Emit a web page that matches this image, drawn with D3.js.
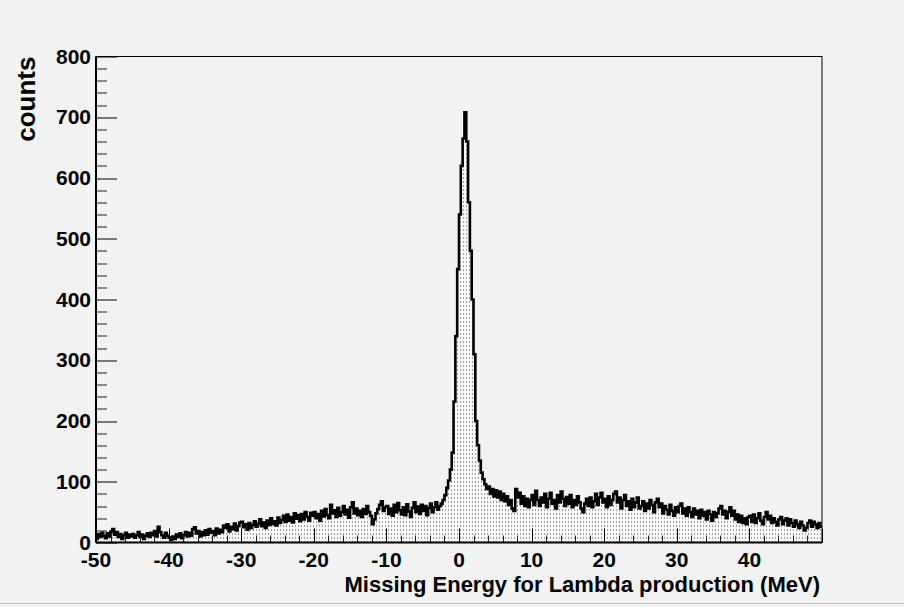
<!DOCTYPE html>
<html>
<head>
<meta charset="utf-8">
<script src="https://cdn.jsdelivr.net/npm/d3@7"></script>
<style>
	body { margin: 0; background: #f2f2f2; }
	svg { display: block; }
	text { font-family: 'Liberation Sans', Arial, sans-serif; font-weight: bold; fill: #000; }
</style>
</head>
<body>
<svg></svg>
<script>
// histogram: 400 bins of 0.25 MeV from -50 to 50, counts
const xMin = -50, xMax = 50, binWidth = 0.25;

const countsM50 = [6,14,9,16,11,7,15,10,18,22,13,17,9,14,6,12,16,8,13,10,
	14,8,12,17,9,13,6,11,15,9,16,12,19,10,26,17,12,8,16,11];
const countsM40 = [8,4,10,6,13,9,15,7,12,17,10,16,11,22,25,15,19,10,17,12,
	20,13,22,16,19,12,23,15,21,17,28,24,30,18,26,22,31,20,27,33];
const countsM30 = [34,25,30,21,32,24,29,35,26,31,38,27,33,24,36,29,40,30,35,28,
	41,32,37,44,34,46,36,42,33,48,39,45,35,47,38,50,42,36,49,44];
const countsM20 = [50,40,47,36,52,43,55,45,40,62,48,53,42,57,44,50,60,46,54,41,
	58,66,48,56,45,52,42,55,47,60,50,44,30,38,48,55,62,68,52,58];
const countsM10 = [60,47,56,44,62,50,65,53,46,58,45,63,51,42,57,66,50,59,47,62,
	52,60,45,57,64,50,58,66,54,60,64,70,78,90,102,120,148,232,340,450];
const counts0 = [540,620,665,708,660,560,480,400,310,200,160,135,115,104,96,88,92,80,88,76,
	86,74,84,70,80,68,76,62,70,56,52,88,74,82,64,76,60,72,58,70];
const counts10 = [78,62,85,70,60,74,66,80,58,72,82,64,70,56,78,66,84,72,60,75,
	64,78,58,70,62,76,66,56,50,64,72,60,74,58,68,80,62,74,82,66];
const counts20 = [72,58,76,62,70,80,84,66,74,56,70,78,60,68,54,72,58,66,74,56,
	60,68,52,64,56,70,62,50,66,72,58,64,48,60,54,46,62,52,44,58];
const counts30 = [50,60,64,48,56,44,58,50,42,56,46,52,40,54,44,50,38,52,46,36,
	50,42,48,56,60,46,52,40,50,58,44,52,38,46,34,44,32,40,30,42];
const counts40 = [44,34,46,32,40,48,36,30,42,50,38,44,32,40,34,28,38,42,30,36,
	40,28,38,32,26,36,30,24,34,28,20,24,32,36,26,34,30,24,32,26];

const yTicks = [0, 100, 200, 300, 400, 500, 600, 700, 800];
const xTicks = [-50, -40, -30, -20, -10, 0, 10, 20, 30, 40, 50];
const xTickLabels = ['-50', '-40', '-30', '-20', '-10', '0', '10', '20', '30', '40', ''];
const xTitle = 'Missing Energy for Lambda production (MeV)';
const yTitle = 'counts';

let counts = [].concat(countsM50, countsM40, countsM30, countsM20, countsM10,
	counts0, counts10, counts20, counts30, counts40);

let bins = counts.map((c, i) => ({ x: xMin + i * binWidth, value: c }));
bins.push({ x: xMax, value: counts[counts.length - 1] });

let svgWidth = 904, svgHeight = 607;
let margin = { top: 56.5, right: 82, bottom: 64.5, left: 96 };
let width = svgWidth - margin.left - margin.right;
let height = svgHeight - margin.top - margin.bottom;

let svg = d3.select('svg').attr('width', svgWidth).attr('height', svgHeight);

// dotted fill like the ROOT pattern
let defs = svg.append('defs');
let pat = defs.append('pattern')
	.attr('id', 'dots')
	.attr('patternUnits', 'userSpaceOnUse')
	.attr('width', 3)
	.attr('height', 4);
pat.append('rect').attr('width', 3).attr('height', 4).attr('fill', '#f8f8f8');
pat.append('rect').attr('x', 1).attr('y', 1).attr('width', 1).attr('height', 1).attr('fill', '#444');

// canvas border line at bottom
svg.append('line')
	.attr('x1', 0).attr('x2', svgWidth)
	.attr('y1', 603.5).attr('y2', 603.5)
	.attr('stroke', '#c4c4c4');

let g = svg.append('g').attr('transform', 'translate(' + margin.left + ',' + margin.top + ')');

let x = d3.scaleLinear().domain([xMin, xMax]).range([0, width]);
let y = d3.scaleLinear().domain([0, 800]).range([height, 0]);

let area = d3.area()
	.curve(d3.curveStepAfter)
	.x((d) => x(d.x))
	.y0(y(0))
	.y1((d) => y(d.value));

let line = d3.line()
	.curve(d3.curveStepAfter)
	.x((d) => x(d.x))
	.y((d) => y(d.value));

g.append('path')
	.datum(bins)
	.attr('fill', 'url(#dots)')
	.attr('d', area);

g.append('path')
	.datum(bins)
	.attr('fill', 'none')
	.attr('stroke', '#000')
	.attr('stroke-width', 2.6)
	.attr('stroke-linejoin', 'miter')
	.attr('d', line);

// frame
g.append('rect')
	.attr('width', width)
	.attr('height', height)
	.attr('fill', 'none')
	.attr('stroke', '#000')
	.attr('stroke-width', 1);

// y axis: ticks pointing inward
let yMinor = d3.range(0, 801, 20).filter((v) => v % 100 !== 0);
g.append('g')
	.selectAll('line')
	.data(yMinor)
	.join('line')
	.attr('x1', 0).attr('x2', 11)
	.attr('y1', (d) => Math.round(y(d)) + 0.5).attr('y2', (d) => Math.round(y(d)) + 0.5)
	.attr('stroke', '#222');
g.append('g')
	.selectAll('line')
	.data(yTicks)
	.join('line')
	.attr('x1', 0).attr('x2', 21)
	.attr('y1', (d) => Math.round(y(d)) + 0.5).attr('y2', (d) => Math.round(y(d)) + 0.5)
	.attr('stroke', '#000');
g.append('g')
	.selectAll('text')
	.data(yTicks)
	.join('text')
	.attr('x', -5)
	.attr('y', (d) => y(d))
	.attr('dy', '0.34em')
	.attr('text-anchor', 'end')
	.style('font-size', '21px')
	.text((d) => d);

// x axis: ticks pointing up
let xMinor = d3.range(-50, 51, 2).filter((v) => v % 10 !== 0);
g.append('g')
	.selectAll('line')
	.data(xMinor)
	.join('line')
	.attr('x1', (d) => Math.round(x(d)) + 0.5).attr('x2', (d) => Math.round(x(d)) + 0.5)
	.attr('y1', height).attr('y2', height - 7)
	.attr('stroke', '#222');
g.append('g')
	.selectAll('line')
	.data(xTicks)
	.join('line')
	.attr('x1', (d) => Math.round(x(d)) + 0.5).attr('x2', (d) => Math.round(x(d)) + 0.5)
	.attr('y1', height).attr('y2', height - 14)
	.attr('stroke', '#000');
g.append('g')
	.selectAll('text')
	.data(xTicks)
	.join('text')
	.attr('x', (d) => x(d))
	.attr('y', height + 24)
	.attr('text-anchor', 'middle')
	.style('font-size', '21px')
	.text((d, i) => xTickLabels[i]);

// axis lines, a bit heavier
g.append('line').attr('x1', 0).attr('x2', 0).attr('y1', 0).attr('y2', height)
	.attr('stroke', '#000').attr('stroke-width', 2);
g.append('line').attr('x1', 0).attr('x2', width).attr('y1', height).attr('y2', height)
	.attr('stroke', '#000').attr('stroke-width', 2);

// titles
g.append('text')
	.attr('x', width - 2)
	.attr('y', height + 49)
	.attr('text-anchor', 'end')
	.style('font-size', '22px')
	.text(xTitle);

g.append('text')
	.attr('transform', 'rotate(-90)')
	.attr('x', 0)
	.attr('y', -61)
	.attr('text-anchor', 'end')
	.style('font-size', '26px')
	.text(yTitle);
</script>
</body>
</html>
